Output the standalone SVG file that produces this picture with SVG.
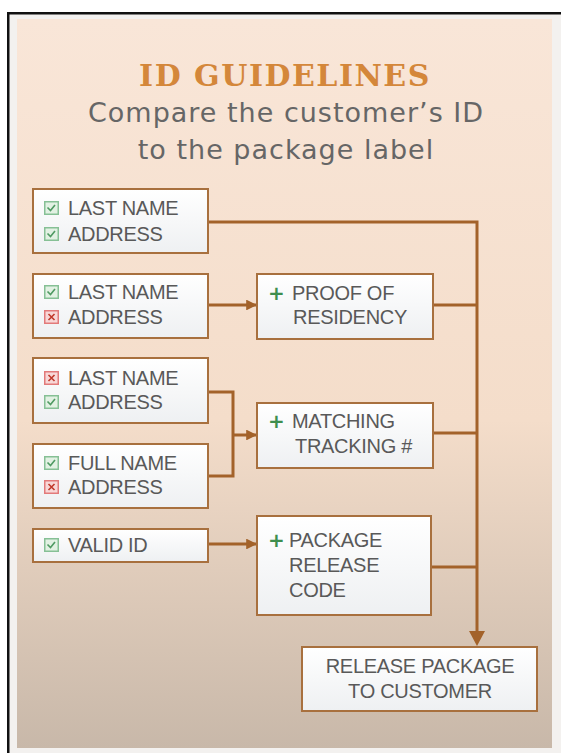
<svg xmlns="http://www.w3.org/2000/svg" width="561" height="753" viewBox="0 0 561 753">
<defs>
<linearGradient id="bg" x1="0" y1="0" x2="0" y2="1">
<stop offset="0" stop-color="#f9e6d8"/>
<stop offset="0.55" stop-color="#f4ddca"/>
<stop offset="1" stop-color="#c8b8a9"/>
</linearGradient>
<linearGradient id="boxfill" x1="0" y1="0" x2="0" y2="1">
<stop offset="0" stop-color="#ffffff"/>
<stop offset="1" stop-color="#eef0f2"/>
</linearGradient>
<marker id="arr" viewBox="0 0 10 10" refX="10" refY="5" markerWidth="3.6" markerHeight="3.6" markerUnits="strokeWidth" orient="auto">
<path d="M0,0 L10,5 L0,10 Z" fill="#a3622a"/>
</marker>
<g id="ok">
<rect x="0.75" y="0.75" width="13.5" height="12.5" fill="#e2f1e3" stroke="#86c095" stroke-width="1.5"/>
<path d="M3.5,6.5 L6.5,9.5 L11,4" fill="none" stroke="#4f9a62" stroke-width="1.6"/>
</g>
<g id="no">
<rect x="0.75" y="0.75" width="13.5" height="12.5" fill="#f8d7d7" stroke="#e27a7a" stroke-width="1.5"/>
<path d="M4.5,4 L10.5,10 M10.5,4 L4.5,10" fill="none" stroke="#c0392b" stroke-width="1.6"/>
</g>
</defs>
<style>
.box{fill:url(#boxfill);stroke:#a8703e;stroke-width:2}
.t{font-family:"Liberation Sans",Arial,sans-serif;font-size:20px;fill:#595959;letter-spacing:-0.3px}
.plus{font-family:"DejaVu Sans",sans-serif;font-size:20px;font-weight:bold;fill:#3e8e4e}
.ln{fill:none;stroke:#a3622a;stroke-width:3}
.title{font-family:"DejaVu Serif",serif;font-weight:bold;font-size:30px;fill:#d4873a;letter-spacing:1.5px}
.sub{font-family:"DejaVu Sans",Verdana,sans-serif;font-size:27px;fill:#666666;letter-spacing:1px}
</style>
<rect x="0" y="0" width="561" height="753" fill="#ffffff"/>
<rect x="7" y="12" width="554" height="741" fill="#f3f1ef"/>
<rect x="17" y="19" width="535" height="729" fill="url(#bg)"/>
<rect x="7" y="12" width="554" height="2.5" fill="#111"/>
<rect x="7" y="12" width="2.5" height="741" fill="#111"/>

<g id="title">
<text class="title" x="285" y="86" text-anchor="middle">ID GUIDELINES</text>
<text class="sub" x="286" y="122" text-anchor="middle">Compare the customer’s ID</text>
<text class="sub" x="286" y="159" text-anchor="middle">to the package label</text>
</g>

<g id="connectors">
<path class="ln" d="M208,222 H477 V632" stroke-width="3.5"/>
<path d="M469,631 L485,631 L477,646 Z" fill="#a3622a"/>
<path class="ln" d="M433,305 H477 M433,433 H477 M431,567 H477"/>
<path class="ln" d="M208,305 H257" marker-end="url(#arr)"/>
<path class="ln" d="M208,392 H233 V476 H208 M233,435 H257" marker-end="url(#arr)"/>
<path class="ln" d="M208,544 H257" marker-end="url(#arr)"/>
</g>

<g id="n1">
<rect class="box" x="33" y="189" width="175" height="64"/>
<use href="#ok" x="44" y="201"/><text class="t" x="68" y="215">LAST NAME</text>
<use href="#ok" x="44" y="227"/><text class="t" x="68" y="241">ADDRESS</text>
</g>
<g id="n2">
<rect class="box" x="33" y="274" width="175" height="64"/>
<use href="#ok" x="44" y="285"/><text class="t" x="68" y="299">LAST NAME</text>
<use href="#no" x="44" y="310"/><text class="t" x="68" y="324">ADDRESS</text>
</g>
<g id="n3">
<rect class="box" x="33" y="358" width="175" height="65"/>
<use href="#no" x="44" y="371"/><text class="t" x="68" y="385">LAST NAME</text>
<use href="#ok" x="44" y="395"/><text class="t" x="68" y="409">ADDRESS</text>
</g>
<g id="n4">
<rect class="box" x="33" y="444" width="175" height="64"/>
<use href="#ok" x="44" y="456"/><text class="t" x="68" y="470">FULL NAME</text>
<use href="#no" x="44" y="480"/><text class="t" x="68" y="494">ADDRESS</text>
</g>
<g id="n5">
<rect class="box" x="33" y="529" width="175" height="33"/>
<use href="#ok" x="44" y="538"/><text class="t" x="68" y="552">VALID ID</text>
</g>

<g id="n6">
<rect class="box" x="257" y="274" width="176" height="65"/>
<text class="plus" x="268" y="300">+</text>
<text class="t" x="292" y="300">PROOF OF</text>
<text class="t" x="293" y="324">RESIDENCY</text>
</g>
<g id="n7">
<rect class="box" x="257" y="403" width="176" height="65"/>
<text class="plus" x="268" y="428">+</text>
<text class="t" x="292" y="428">MATCHING</text>
<text class="t" x="295" y="453">TRACKING #</text>
</g>
<g id="n8">
<rect class="box" x="257" y="516" width="174" height="99"/>
<text class="plus" x="268" y="547">+</text>
<text class="t" x="289" y="547">PACKAGE</text>
<text class="t" x="289" y="572">RELEASE</text>
<text class="t" x="289" y="597">CODE</text>
</g>
<g id="n9">
<rect class="box" x="302" y="647" width="235" height="64"/>
<text class="t" x="420" y="673" text-anchor="middle">RELEASE PACKAGE</text>
<text class="t" x="420" y="698" text-anchor="middle">TO CUSTOMER</text>
</g>
</svg>
